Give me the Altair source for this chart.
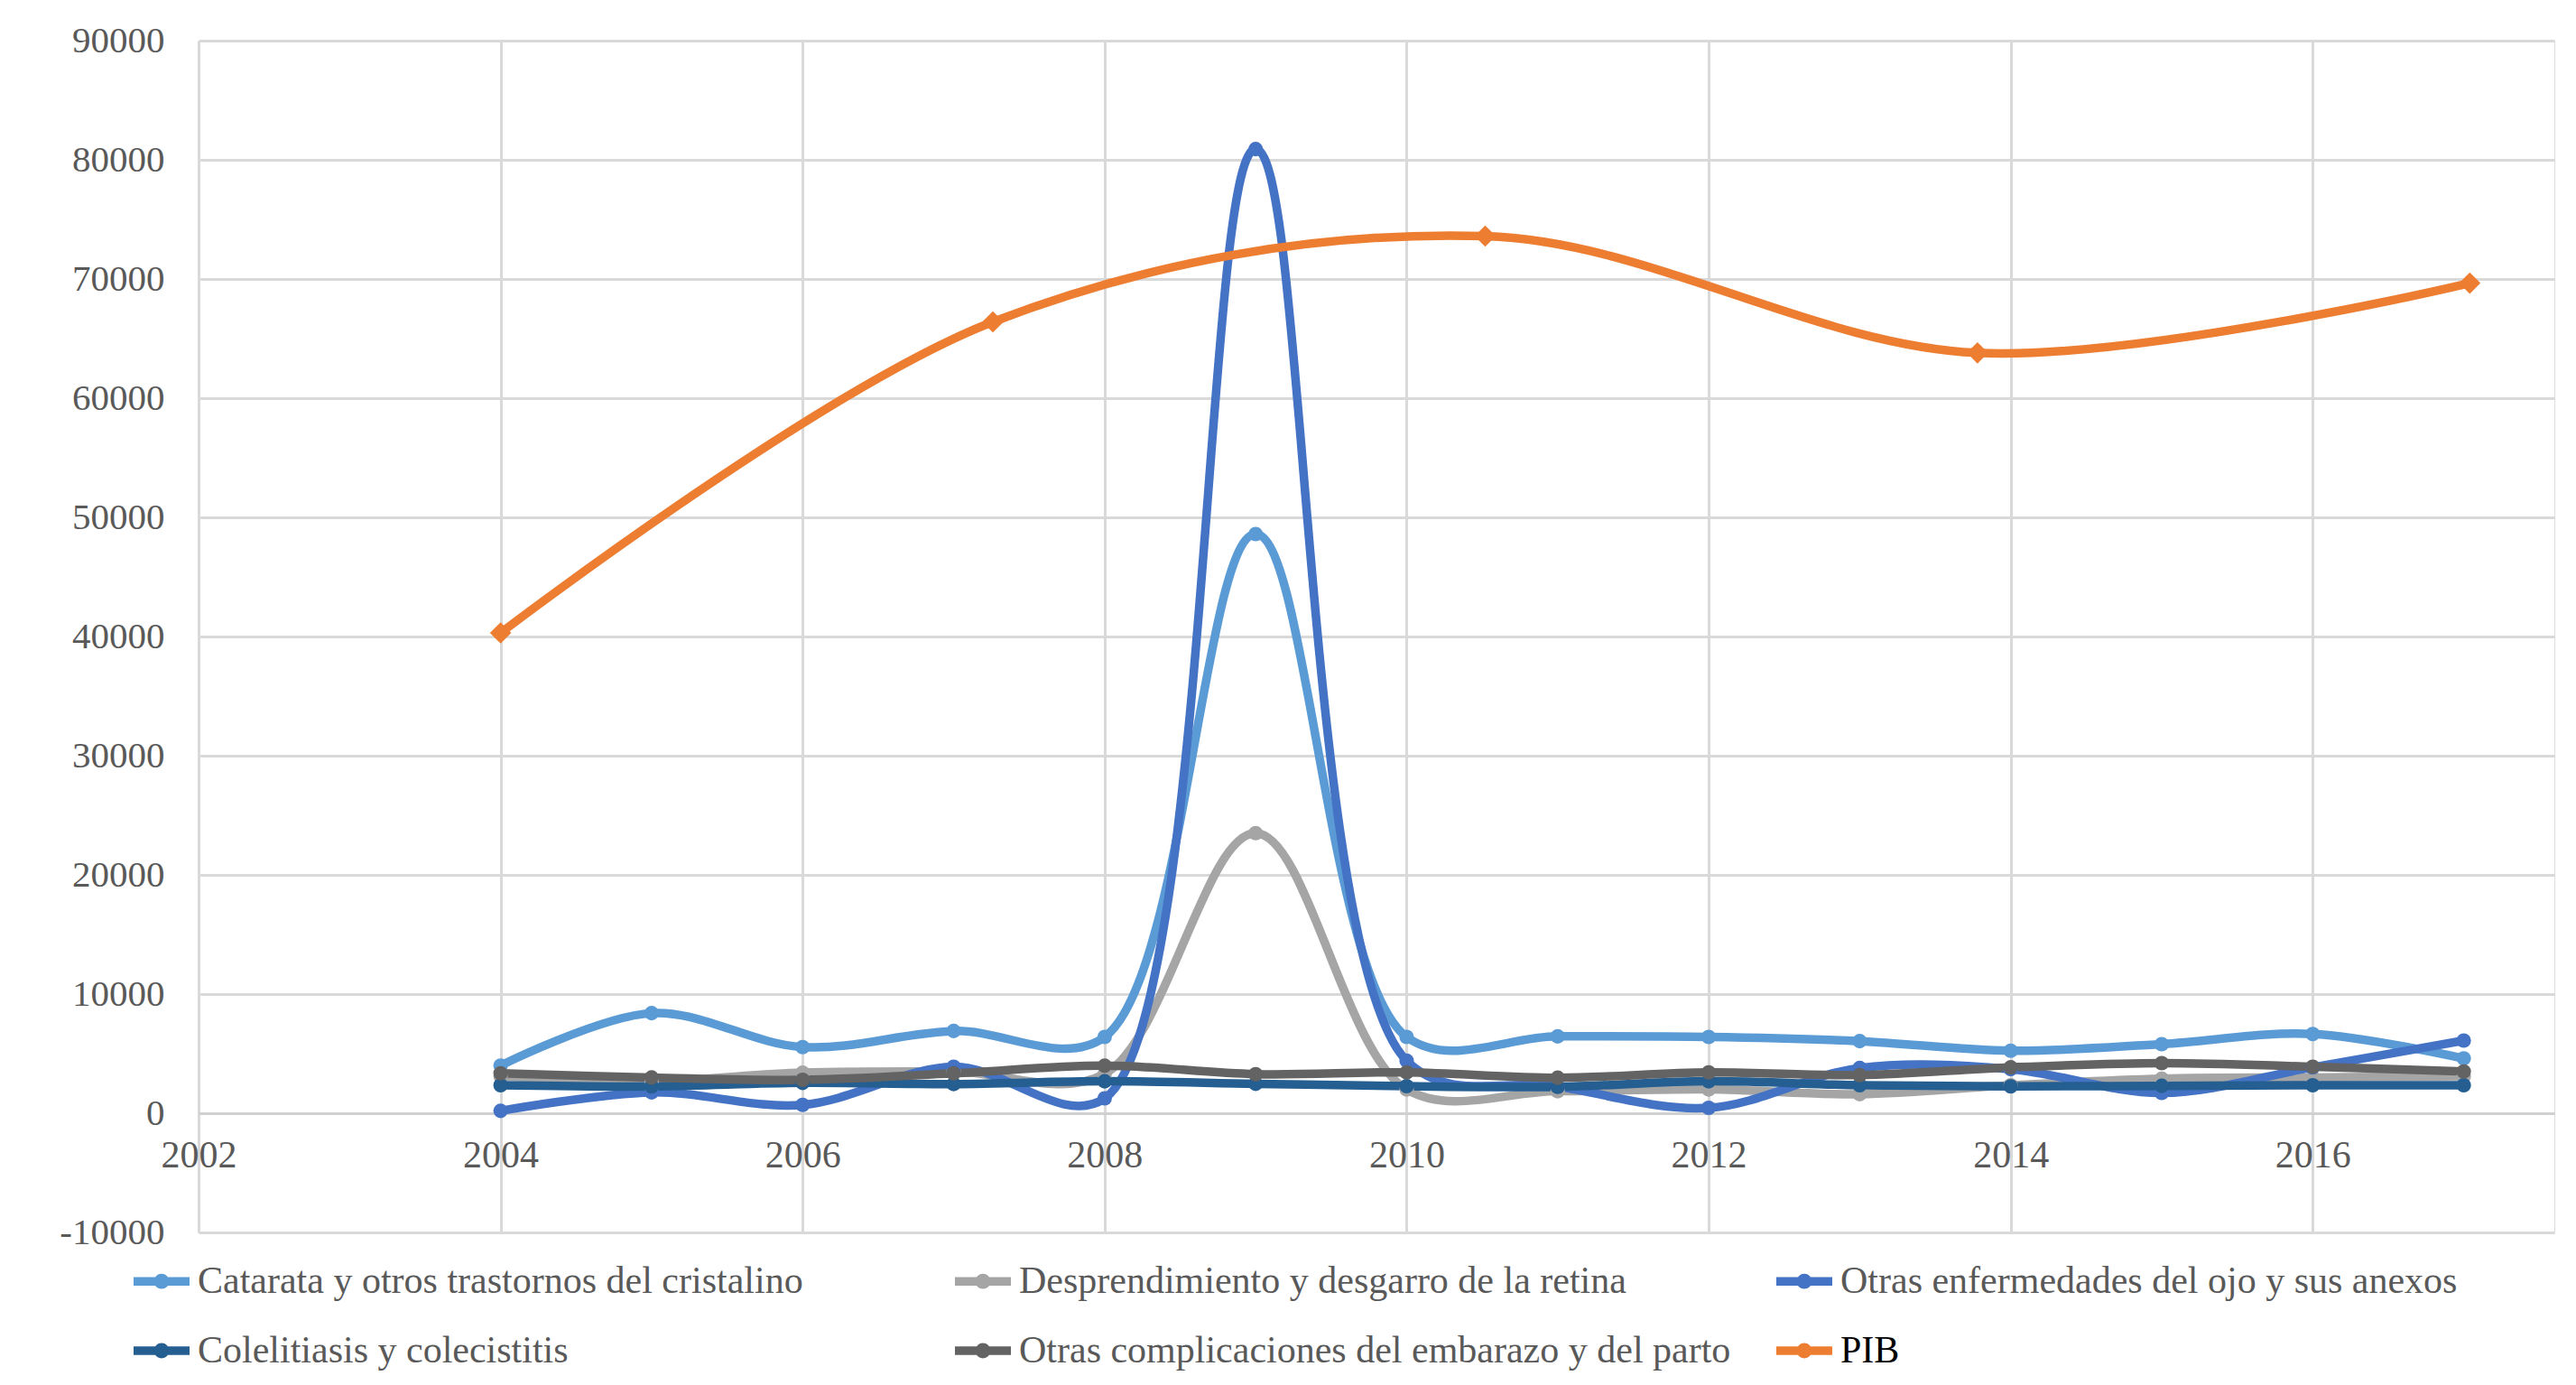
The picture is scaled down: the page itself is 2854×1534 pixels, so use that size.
import altair as alt
import pandas as pd

# ---- data ----
years = list(range(2004, 2018))
series_names = [
    "Catarata y otros trastornos del cristalino",
    "Desprendimiento y desgarro de la retina",
    "Otras enfermedades del ojo y sus anexos",
    "Colelitiasis y colecistitis",
    "Otras complicaciones del embarazo y del parto",
    "PIB",
]
catarata = [4000, 8400, 5550, 6900, 6400, 48600, 6400, 6450, 6400, 6050, 5250, 5800, 6650, 4600]
desprendimiento = [3100, 2700, 3400, 3500, 3300, 23500, 2000, 1850, 2000, 1600, 2350, 2900, 3000, 3100]
otras_ojo = [200, 1750, 700, 3900, 1250, 80900, 4400, 2250, 450, 3800, 3700, 1700, 3850, 6100]
colelitiasis = [2350, 2250, 2550, 2450, 2680, 2470, 2270, 2220, 2680, 2350, 2250, 2300, 2350, 2350]
otras_embarazo = [3350, 3000, 2800, 3350, 3990, 3280, 3430, 2980, 3430, 3200, 3850, 4200, 3900, 3500]
pib_x = [2004, 2007.26, 2010.52, 2013.78, 2017.04]
pib_y = [40300, 66400, 73600, 63800, 69650]

colors = ["#5B9BD5", "#A5A5A5", "#4472C4", "#255E91", "#636363", "#ED7D31"]
x_ticks = [2002, 2004, 2006, 2008, 2010, 2012, 2014, 2016]
y_ticks = [-10000, 0, 10000, 20000, 30000, 40000, 50000, 60000, 70000, 80000, 90000]

rows = []
for name, vals in zip(series_names[:5], [catarata, desprendimiento, otras_ojo, colelitiasis, otras_embarazo]):
    for yr, v in zip(years, vals):
        rows.append({"serie": name, "anio": yr, "valor": v})
for xv, v in zip(pib_x, pib_y):
    rows.append({"serie": "PIB", "anio": xv, "valor": v})
df = pd.DataFrame(rows)

W, H = 2610, 1320
FONT = "Liberation Serif"
GRAY_TXT = "#595959"

legend_path = "M-1,0H1M-0.12,0A0.12,0.12,0,1,0,0.12,0A0.12,0.12,0,1,0,-0.12,0"

x_enc = alt.X(
    "anio:Q",
    scale=alt.Scale(domain=[2002, 2017.6], nice=False, zero=False),
    axis=alt.Axis(
        values=x_ticks, labelExpr="'' + datum.value", title=None,
        offset=-(H / 10), ticks=False, domain=True, domainColor="#D0D0D0", domainWidth=3,
        grid=True, gridColor="#D9D9D9", gridWidth=3,
        labelFont=FONT, labelFontSize=42, labelColor=GRAY_TXT, labelPadding=26,
        labelFlush=False, labelOverlap=False,
    ),
)
y_enc = alt.Y(
    "valor:Q",
    scale=alt.Scale(domain=[-10000, 90000], nice=False),
    axis=alt.Axis(
        values=y_ticks, labelExpr="'' + datum.value", title=None,
        ticks=False, domain=False, grid=True, gridColor="#D9D9D9", gridWidth=3,
        labelFont=FONT, labelFontSize=41, labelColor=GRAY_TXT, labelPadding=38,
        labelFlush=False, labelOverlap=False,
    ),
)

color_scale = alt.Scale(domain=series_names, range=colors)

lines = alt.Chart(df).mark_line(interpolate="catmull-rom", strokeCap="round", strokeJoin="round").encode(
    x=x_enc,
    y=y_enc,
    color=alt.Color(
        "serie:N", scale=color_scale,
        legend=alt.Legend(
            title=None, orient="none", legendX=-77, legendY=1338, columns=3,
            direction="horizontal", gridAlign="all",
            symbolType=legend_path, symbolSize=3844, symbolStrokeWidth=6,
            labelFont=FONT, labelFontSize=42,
            labelColor=alt.expr("datum.label == 'PIB' ? '#000000' : '#595959'"),
            labelLimit=0, labelOffset=4, columnPadding=31, rowPadding=18,
        ),
    ),
    strokeWidth=alt.StrokeWidth(
        "serie:N", scale=alt.Scale(domain=series_names, range=[9.5, 9.5, 9.5, 9.5, 9.5, 10.5]), legend=None
    ),
    detail="serie:N",
)

circles = (
    alt.Chart(df)
    .transform_filter("datum.serie != 'PIB'")
    .mark_point(filled=True, opacity=1, shape="circle", size=260)
    .encode(x=x_enc, y=y_enc, color=alt.Color("serie:N", scale=color_scale, legend=None))
)

diamonds = (
    alt.Chart(df)
    .transform_filter("datum.serie == 'PIB'")
    .mark_point(filled=True, opacity=1, shape="diamond", size=560)
    .encode(x=x_enc, y=y_enc, color=alt.Color("serie:N", scale=color_scale, legend=None))
)

chart = (
    alt.layer(lines, circles, diamonds)
    .properties(
        width=W,
        height=H,
        autosize=alt.AutoSizeParams(type="none"),
        padding={"left": 212, "top": 37, "right": 16, "bottom": 160},
    )
    .configure_view(stroke=None)
    .configure(background="white")
)

chart.save("out.html", embed_options={"renderer": "svg", "actions": False})
